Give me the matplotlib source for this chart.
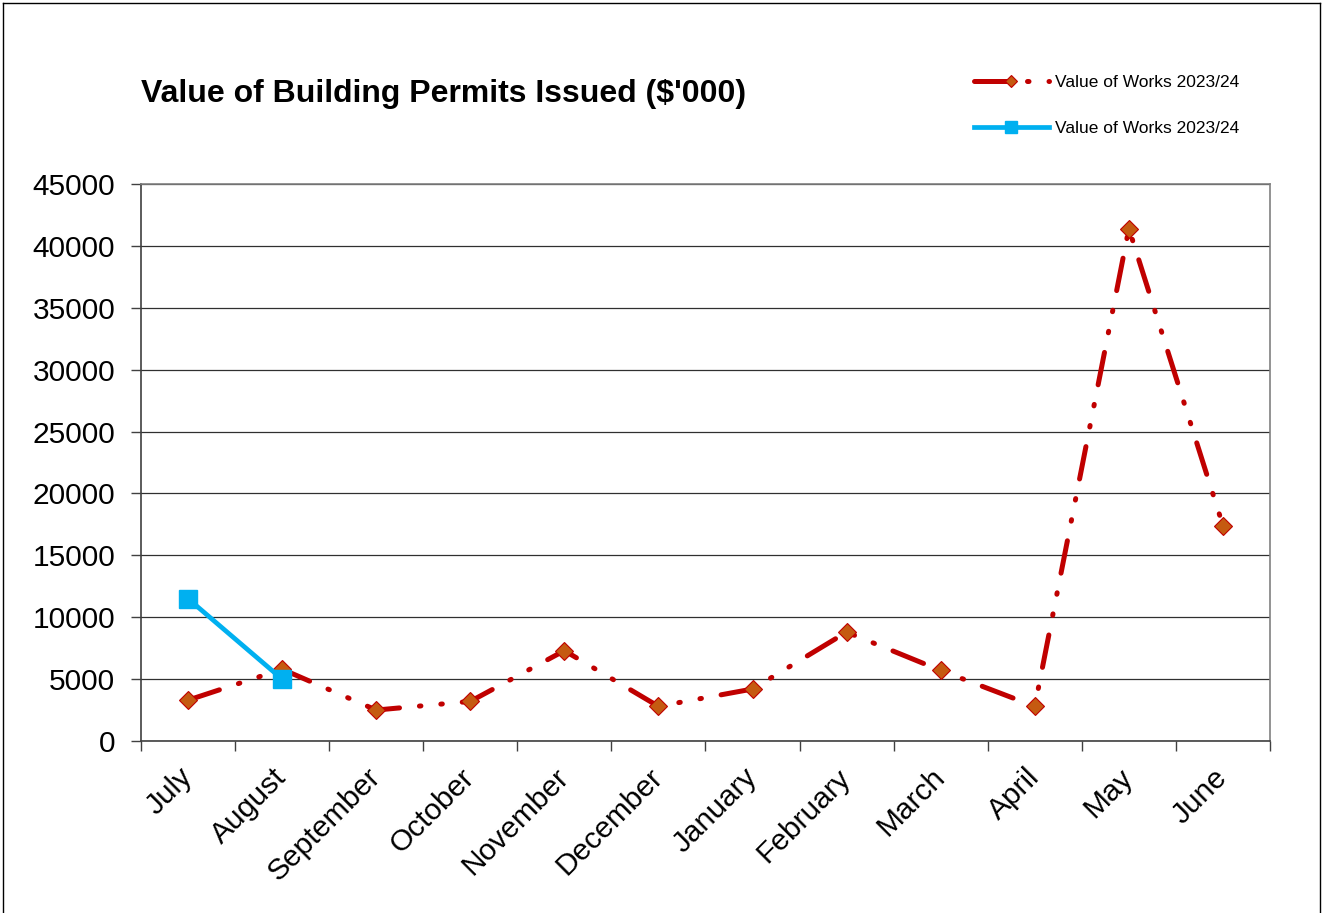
import matplotlib
matplotlib.use("Agg")
import matplotlib.pyplot as plt
from matplotlib.lines import Line2D

plt.rcParams['font.family'] = ['Liberation Sans', 'DejaVu Sans']

months = ["July", "August", "September", "October", "November", "December",
          "January", "February", "March", "April", "May", "June"]
works_red = [3300, 5800, 2500, 3200, 7300, 2800, 4200, 8800, 5700, 2800, 41400, 17400]
works_blue = [11500, 5000]
series_label = "Value of Works 2023/24"
title = "Value of Building Permits Issued ($'000)"
yticks = list(range(0, 45001, 5000))

W, H = 1322, 913
fig = plt.figure(figsize=(W / 100, H / 100), dpi=100)
ax = fig.add_axes([141 / W, 1 - 741 / H, (1270 - 141) / W, (741 - 184) / H])

x = list(range(len(months)))
red_line, = ax.plot(x, works_red, color='#C00000', lw=3.6,
                    dashes=(6.6, 4.0, 0.3, 4.0, 0.3, 4.0),
                    dash_capstyle='round', solid_capstyle='round',
                    marker='D', markersize=9.4, markerfacecolor='#C55A11',
                    markeredgecolor='#C00000', markeredgewidth=0.8, zorder=3)
blue_line, = ax.plot(x[:len(works_blue)], works_blue, color='#00B0F0', lw=3.4,
                     marker='s', markersize=13.5, markerfacecolor='#00B0F0',
                     markeredgecolor='#00B0F0', zorder=4)

ax.set_xlim(-0.5, len(months) - 0.5)
ax.set_ylim(0, 45000)
ax.set_yticks(yticks)
ax.set_yticklabels([str(v) for v in yticks], fontsize=21.5)
ax.yaxis.grid(True, color='#303030', lw=0.9)
ax.set_axisbelow(True)
ax.tick_params(axis='y', direction='out', length=7, width=1, color='#404040', pad=11.5)

# tick marks sit on category boundaries, labels at category centres
ax.set_xticks([i - 0.5 for i in range(len(months) + 1)])
ax.set_xticklabels([])
ax.tick_params(axis='x', direction='out', length=7, width=1, color='#404040')
ax.set_xticks(x, minor=True)
ax.set_xticklabels(months, minor=True, rotation=45, ha='right', va='center',
                   rotation_mode='anchor', fontsize=21.5)
ax.tick_params(axis='x', which='minor', length=0, pad=23)

for side in ['left', 'bottom']:
    ax.spines[side].set_color('#404040')
    ax.spines[side].set_linewidth(1.2)
for side in ['right', 'top']:
    ax.spines[side].set_color('#808080')
    ax.spines[side].set_linewidth(1.2)

fig.text(141 / W, 1 - 94 / H, title, fontsize=23, fontweight='bold',
         ha='left', va='center')

leg = fig.legend([red_line, blue_line], [series_label, series_label],
                 loc='upper left', bbox_to_anchor=(974 / W, 1 - 75 / H),
                 frameon=False, fontsize=12.5, handlelength=4.3,
                 handletextpad=0.35, labelspacing=1.75, borderpad=0,
                 borderaxespad=0, markerscale=0.6)

# outer frame of the chart area
for xs, ys in [([3 / W, 3 / W], [0, 1 - 3 / H]),
               ([3 / W, 1320 / W], [1 - 3 / H, 1 - 3 / H]),
               ([1320 / W, 1320 / W], [0, 1 - 3 / H])]:
    fig.add_artist(Line2D(xs, ys, transform=fig.transFigure, color='black', lw=1))

fig.savefig('out.png', dpi=100)
